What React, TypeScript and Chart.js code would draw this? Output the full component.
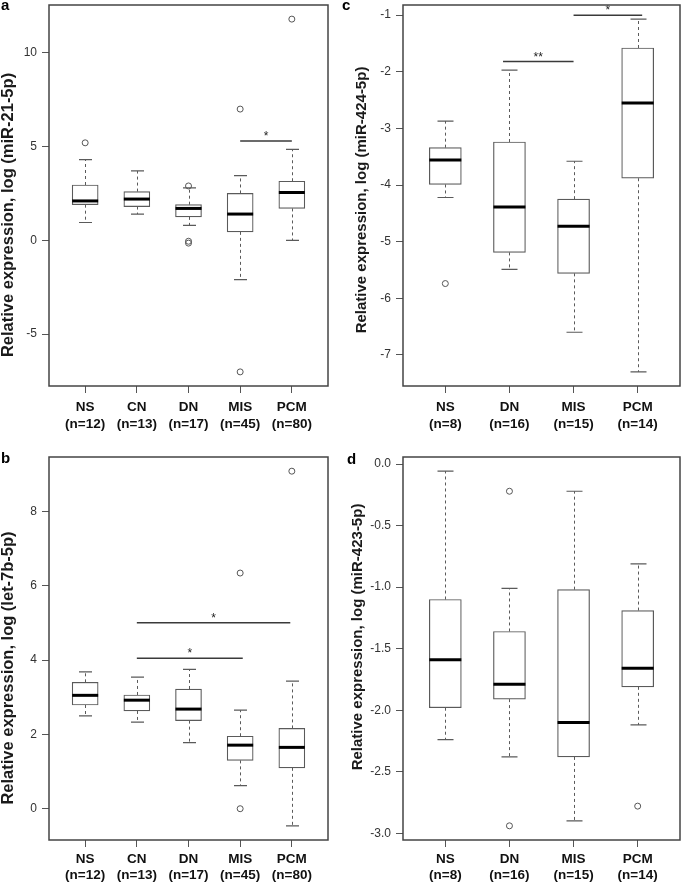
import React, { useEffect, useRef } from "react";
import { Chart, registerables } from "chart.js";

Chart.register(...registerables);

// ---------- Panel a: miR-21-5p ----------
const catsA = ["NS", "CN", "DN", "MIS", "PCM"];
const nA = ["(n=12)", "(n=13)", "(n=17)", "(n=45)", "(n=80)"];
const loA = [0.95, 1.4, 0.8, -2.1, 0.0];
const q1A = [1.9, 1.8, 1.25, 0.45, 1.7];
const medA = [2.1, 2.2, 1.7, 1.4, 2.55];
const q3A = [2.95, 2.6, 1.9, 2.5, 3.15];
const hiA = [4.3, 3.7, 2.8, 3.45, 4.85];
const outA = [[5.2], [], [2.9, -0.05, -0.15], [7.0, -7.02], [11.8]];
const yTicksA = [-5, 0, 5, 10];
const sigA = [{ x1: 4, x2: 5, y: 5.3, label: "*" }];

// ---------- Panel b: let-7b-5p ----------
const catsB = ["NS", "CN", "DN", "MIS", "PCM"];
const nB = ["(n=12)", "(n=13)", "(n=17)", "(n=45)", "(n=80)"];
const loB = [2.5, 2.33, 1.78, 0.62, -0.46];
const q1B = [2.79, 2.63, 2.37, 1.3, 1.1];
const medB = [3.05, 2.92, 2.68, 1.71, 1.65];
const q3B = [3.4, 3.06, 3.22, 1.95, 2.16];
const hiB = [3.68, 3.54, 3.75, 2.65, 3.43];
const outB = [[], [], [], [6.34, 0.0], [9.08]];
const yTicksB = [0, 2, 4, 6, 8];
const sigB = [
  { x1: 2, x2: 4.97, y: 5.0, label: "*" },
  { x1: 2, x2: 4.05, y: 4.05, label: "*" },
];

// ---------- Panel c: miR-424-5p ----------
const catsC = ["NS", "DN", "MIS", "PCM"];
const nC = ["(n=8)", "(n=16)", "(n=15)", "(n=14)"];
const loC = [-4.22, -5.49, -6.6, -7.3];
const q1C = [-3.99, -5.19, -5.56, -3.88];
const medC = [-3.56, -4.39, -4.73, -2.55];
const q3C = [-3.34, -3.24, -4.25, -1.58];
const hiC = [-2.87, -1.97, -3.58, -1.07];
const outC = [[-5.74], [], [], []];
const yTicksC = [-7, -6, -5, -4, -3, -2, -1];
const sigC = [
  { x1: 1.9, x2: 3, y: -1.82, label: "**" },
  { x1: 3, x2: 4.07, y: -1.0, label: "*" },
];

// ---------- Panel d: miR-423-5p ----------
const catsD = ["NS", "DN", "MIS", "PCM"];
const nD = ["(n=8)", "(n=16)", "(n=15)", "(n=14)"];
const loD = [-2.24, -2.38, -2.9, -2.12];
const q1D = [-1.98, -1.91, -2.38, -1.81];
const medD = [-1.59, -1.79, -2.1, -1.66];
const q3D = [-1.1, -1.36, -1.02, -1.19];
const hiD = [-0.057, -1.01, -0.22, -0.81];
const outD = [[], [-0.22, -2.94], [], [-2.78]];
const yTicksD = [-3.0, -2.5, -2.0, -1.5, -1.0, -0.5, 0.0];
const sigD: { x1: number; x2: number; y: number; label: string }[] = [];

const FONT = "'Liberation Sans', Arial, sans-serif";

type Spec = {
  cats: string[];
  ns: string[];
  lo: number[];
  q1: number[];
  med: number[];
  q3: number[];
  hi: number[];
  out: number[][];
  yTicks: number[];
  dec: number;
  sig: { x1: number; x2: number; y: number; label: string }[];
  title: string;
  letter: string;
};

type Lay = {
  left: number;
  top: number;
  w: number;
  h: number;
  yW: number;
  padTop: number;
  padRight: number;
  xH: number;
  xPad: number;
  box: number;
  titleX: number;
  titleY: number;
  titleSize: number;
  letterX: number;
  letterY: number;
};

function Panel({ spec, lay }: { spec: Spec; lay: Lay }) {
  const ref = useRef<HTMLCanvasElement | null>(null);
  useEffect(() => {
    const canvas = ref.current;
    if (!canvas) return;
    const n = spec.cats.length;
    const all = [...spec.lo, ...spec.hi, ...spec.out.flat()];
    const dmin = Math.min(...all);
    const dmax = Math.max(...all);
    const ext = (dmax - dmin) * 0.04;

    const extras = {
      id: "boxExtras",
      beforeDatasetsDraw(chart: any) {
        const { ctx } = chart;
        const x = chart.scales.x;
        const y = chart.scales.y;
        const capHalf = lay.box / 4;
        ctx.save();
        for (let i = 0; i < n; i++) {
          const cx = Math.round(x.getPixelForValue(i + 1)) + 0.5;
          ctx.strokeStyle = "#5a5a5a";
          ctx.lineWidth = 1;
          ctx.setLineDash([3, 3]);
          ctx.beginPath();
          ctx.moveTo(cx, y.getPixelForValue(spec.q3[i]));
          ctx.lineTo(cx, y.getPixelForValue(spec.hi[i]));
          ctx.moveTo(cx, y.getPixelForValue(spec.q1[i]));
          ctx.lineTo(cx, y.getPixelForValue(spec.lo[i]));
          ctx.stroke();
          ctx.setLineDash([]);
          ctx.lineWidth = 1.2;
          ctx.beginPath();
          const yh = y.getPixelForValue(spec.hi[i]);
          const yl = y.getPixelForValue(spec.lo[i]);
          ctx.moveTo(cx - capHalf, yh);
          ctx.lineTo(cx + capHalf, yh);
          ctx.moveTo(cx - capHalf, yl);
          ctx.lineTo(cx + capHalf, yl);
          ctx.stroke();
        }
        ctx.restore();
      },
      afterDatasetsDraw(chart: any) {
        const { ctx } = chart;
        const x = chart.scales.x;
        const y = chart.scales.y;
        const half = lay.box / 2;
        ctx.save();
        ctx.strokeStyle = "#000";
        ctx.lineWidth = 3;
        for (let i = 0; i < n; i++) {
          const cx = x.getPixelForValue(i + 1);
          const ym = y.getPixelForValue(spec.med[i]);
          ctx.beginPath();
          ctx.moveTo(cx - half, ym);
          ctx.lineTo(cx + half, ym);
          ctx.stroke();
        }
        // significance bars
        ctx.strokeStyle = "#3a3a3a";
        ctx.lineWidth = 1.5;
        ctx.fillStyle = "#222";
        ctx.font = `12px ${FONT}`;
        ctx.textAlign = "center";
        ctx.textBaseline = "alphabetic";
        for (const s of spec.sig) {
          const x1 = x.getPixelForValue(s.x1);
          const x2 = x.getPixelForValue(s.x2);
          const yy = y.getPixelForValue(s.y);
          ctx.beginPath();
          ctx.moveTo(x1, yy);
          ctx.lineTo(x2, yy);
          ctx.stroke();
          ctx.fillText(s.label, (x1 + x2) / 2, yy - 1);
        }
        ctx.restore();
      },
      afterDraw(chart: any) {
        const { ctx, chartArea } = chart;
        ctx.save();
        ctx.strokeStyle = "#444";
        ctx.lineWidth = 1.5;
        ctx.strokeRect(
          chartArea.left,
          chartArea.top,
          chartArea.right - chartArea.left,
          chartArea.bottom - chartArea.top
        );
        // y-axis title
        ctx.fillStyle = "#1a1a1a";
        ctx.font = `bold ${lay.titleSize}px ${FONT}`;
        ctx.textAlign = "center";
        ctx.textBaseline = "middle";
        ctx.translate(lay.titleX, lay.titleY);
        ctx.rotate(-Math.PI / 2);
        ctx.fillText(spec.title, 0, 0);
        ctx.restore();
        ctx.save();
        ctx.fillStyle = "#000";
        ctx.font = `bold 15px ${FONT}`;
        ctx.textAlign = "left";
        ctx.textBaseline = "alphabetic";
        ctx.fillText(spec.letter, lay.letterX, lay.letterY);
        ctx.restore();
      },
    };

    const chart = new Chart(canvas, {
      type: "bar",
      data: {
        datasets: [
          {
            type: "bar",
            data: spec.cats.map((_, i) => ({ x: i + 1, y: [spec.q1[i], spec.q3[i]] })),
            backgroundColor: "#ffffff",
            borderColor: "#5a5a5a",
            borderWidth: 1.2,
            borderSkipped: false,
            barThickness: lay.box,
            order: 2,
          } as any,
          {
            type: "scatter",
            data: spec.out.flatMap((arr, i) => arr.map((v) => ({ x: i + 1, y: v }))),
            pointRadius: 3,
            pointBackgroundColor: "rgba(255,255,255,0)",
            pointBorderColor: "#555",
            pointBorderWidth: 1,
            order: 1,
          } as any,
        ],
      },
      options: {
        animation: false,
        responsive: false,
        events: [],
        layout: { padding: { left: 0, top: lay.padTop, right: lay.padRight, bottom: 0 } },
        plugins: { legend: { display: false }, tooltip: { enabled: false } },
        scales: {
          x: {
            type: "linear",
            min: 0.5 - 0.04 * n,
            max: n + 0.5 + 0.04 * n,
            offset: false,
            grid: {
              offset: false,
              drawOnChartArea: false,
              drawTicks: true,
              tickLength: 7,
              color: "#555",
              lineWidth: 1,
            },
            border: { display: false },
            afterBuildTicks: (s: any) => {
              s.ticks = spec.cats.map((_, i) => ({ value: i + 1 }));
            },
            afterFit: (s: any) => {
              s.height = lay.xH;
              s.paddingLeft = 0;
              s.paddingRight = 0;
            },
            ticks: {
              autoSkip: false,
              maxRotation: 0,
              minRotation: 0,
              padding: lay.xPad,
              color: "#111",
              font: { family: FONT, size: 13.5, weight: "bold", lineHeight: 1.2 },
              callback: (v: any) => {
                const i = Math.round(Number(v)) - 1;
                return [spec.cats[i], spec.ns[i]];
              },
            },
          },
          y: {
            type: "linear",
            min: dmin - ext,
            max: dmax + ext,
            grid: {
              drawOnChartArea: false,
              drawTicks: true,
              tickLength: 7,
              color: "#555",
              lineWidth: 1,
            },
            border: { display: false },
            afterBuildTicks: (s: any) => {
              s.ticks = spec.yTicks.map((v) => ({ value: v }));
            },
            afterFit: (s: any) => {
              s.width = lay.yW;
              s.paddingTop = 0;
              s.paddingBottom = 0;
            },
            ticks: {
              autoSkip: false,
              padding: 5,
              color: "#333",
              font: { family: FONT, size: 12 },
              callback: (v: any) => Number(v).toFixed(spec.dec),
            },
          },
        },
      } as any,
      plugins: [extras],
    });
    return () => chart.destroy();
  }, [spec, lay]);

  return (
    <canvas
      ref={ref}
      width={lay.w}
      height={lay.h}
      style={{ position: "absolute", left: lay.left, top: lay.top, width: lay.w, height: lay.h }}
    />
  );
}

const specA: Spec = {
  cats: catsA, ns: nA, lo: loA, q1: q1A, med: medA, q3: q3A, hi: hiA, out: outA,
  yTicks: yTicksA, dec: 0, sig: sigA, title: "Relative expression, log (miR-21-5p)", letter: "a",
};
const specB: Spec = {
  cats: catsB, ns: nB, lo: loB, q1: q1B, med: medB, q3: q3B, hi: hiB, out: outB,
  yTicks: yTicksB, dec: 0, sig: sigB, title: "Relative expression, log (let-7b-5p)", letter: "b",
};
const specC: Spec = {
  cats: catsC, ns: nC, lo: loC, q1: q1C, med: medC, q3: q3C, hi: hiC, out: outC,
  yTicks: yTicksC, dec: 0, sig: sigC, title: "Relative expression, log (miR-424-5p)", letter: "c",
};
const specD: Spec = {
  cats: catsD, ns: nD, lo: loD, q1: q1D, med: medD, q3: q3D, hi: hiD, out: outD,
  yTicks: yTicksD, dec: 1, sig: sigD, title: "Relative expression, log (miR-423-5p)", letter: "d",
};

const layA: Lay = { left: 0, top: 0, w: 340, h: 440, yW: 49, padTop: 3, padRight: 12, xH: 54, xPad: 6.6, box: 26, titleX: 8, titleY: 215, titleSize: 16.5, letterX: 1, letterY: 10 };
const layB: Lay = { left: 0, top: 440, w: 340, h: 445, yW: 49, padTop: 17, padRight: 12, xH: 45, xPad: 3.9, box: 26, titleX: 8, titleY: 228, titleSize: 16.5, letterX: 1, letterY: 23 };
const layC: Lay = { left: 340, top: 0, w: 345, h: 440, yW: 63, padTop: 3, padRight: 2, xH: 54, xPad: 6.6, box: 32, titleX: 22, titleY: 200, titleSize: 15, letterX: 2, letterY: 10 };
const layD: Lay = { left: 340, top: 440, w: 345, h: 445, yW: 63, padTop: 17, padRight: 2, xH: 45, xPad: 3.9, box: 32, titleX: 18, titleY: 197, titleSize: 15, letterX: 7, letterY: 24 };

export default function App() {
  return (
    <div style={{ position: "absolute", left: 0, top: 0, width: 685, height: 885, background: "#fff" }}>
      <Panel spec={specA} lay={layA} />
      <Panel spec={specC} lay={layC} />
      <Panel spec={specB} lay={layB} />
      <Panel spec={specD} lay={layD} />
    </div>
  );
}
